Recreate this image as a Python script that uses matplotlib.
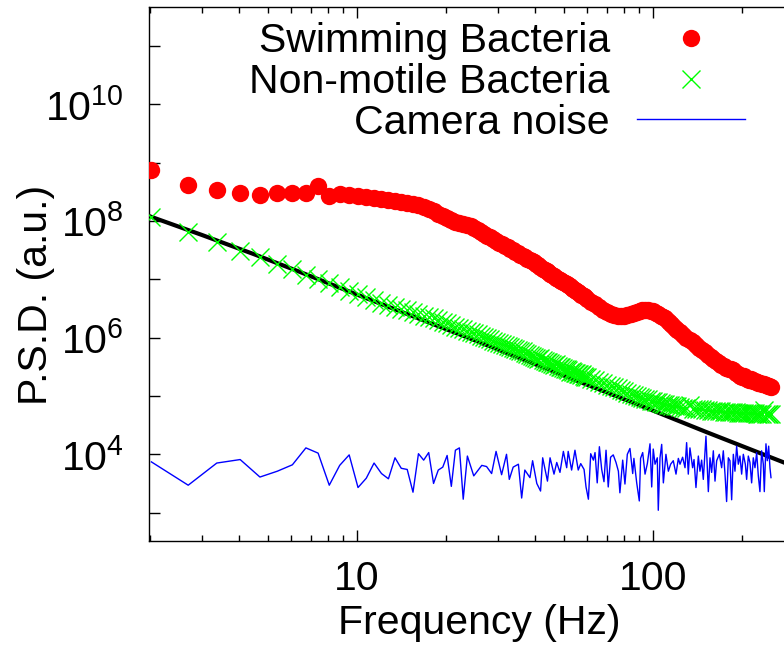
import numpy as np
import matplotlib
matplotlib.use("Agg")
import matplotlib.pyplot as plt
from matplotlib.ticker import FixedLocator, FuncFormatter, NullFormatter, NullLocator

plt.rcParams['font.family'] = ['Liberation Sans', 'DejaVu Sans']
plt.rcParams['mathtext.fontset'] = 'custom'
plt.rcParams['mathtext.rm'] = 'Liberation Sans'
plt.rcParams['mathtext.default'] = 'regular'

# frequency bins (Hz) shared by the two bacteria spectra
freq = [2.02, 2.69, 3.36, 4.03, 4.70, 5.38, 6.05, 6.72, 7.39, 8.06,
        8.74, 9.41, 10.08, 10.75, 11.42, 12.10, 12.77, 13.44, 14.11, 14.78,
        15.46, 16.13, 16.80, 17.47, 18.14, 18.82, 19.49, 20.16, 20.83, 21.50,
        22.18, 22.85, 23.52, 24.19, 24.86, 25.54, 26.21, 26.88, 27.55, 28.22,
        28.90, 29.57, 30.24,
        30.91, 31.58, 32.26, 32.93, 33.60, 34.27, 34.94, 35.62, 36.29, 36.96,
        37.63, 38.30, 38.98, 39.65, 40.32, 40.99, 41.66, 42.34, 43.01, 43.68,
        44.35, 45.02, 45.70, 46.37, 47.04, 47.71, 48.38, 49.06, 49.73, 50.40,
        51.07, 51.74, 52.42, 53.09, 53.76, 54.43, 55.10, 55.78, 56.45, 57.12,
        57.79, 58.46, 59.14, 59.81,
        61.82, 63.84, 65.86, 67.87, 69.89, 71.90, 73.92, 75.94, 77.95, 79.97,
        81.98, 84.00, 86.02, 88.03, 90.05, 92.06, 94.08, 96.10, 98.11, 100.13,
        102.14, 104.16, 106.18, 108.19, 110.21, 112.22, 114.24, 116.26, 118.27, 120.29,
        122.98, 126.34, 129.70, 133.06, 136.42, 139.78, 143.14, 146.50, 149.86, 153.22,
        156.58, 159.94, 163.30, 166.66, 170.02, 173.38, 176.74, 180.10, 183.46, 186.82,
        190.18, 193.54, 196.90, 200.26, 203.62, 206.98, 210.34, 213.70, 217.06, 220.42,
        223.78, 227.14, 230.50, 233.86, 237.22, 240.58, 243.94, 247.30, 250.66]

# log10 of PSD, swimming bacteria
swim_log = [8.88, 8.62, 8.53, 8.48, 8.45, 8.48, 8.49, 8.49, 8.60, 8.43,
            8.46, 8.45, 8.43, 8.42, 8.40, 8.38, 8.36, 8.35, 8.33, 8.31,
            8.29, 8.27, 8.24, 8.21, 8.17, 8.12, 8.08, 8.05, 8.02, 7.99,
            7.97, 7.95, 7.93, 7.91, 7.88, 7.85, 7.81, 7.78, 7.75, 7.72,
            7.69, 7.66, 7.63,
            7.60, 7.57, 7.55, 7.52, 7.50, 7.47, 7.45, 7.42, 7.40, 7.38,
            7.35, 7.33, 7.31, 7.29, 7.26, 7.24, 7.21, 7.18, 7.16, 7.14,
            7.12, 7.10, 7.08, 7.06, 7.03, 7.01, 6.99, 6.97, 6.95, 6.93,
            6.92, 6.90, 6.88, 6.86, 6.84, 6.82, 6.80, 6.78, 6.76, 6.74,
            6.73, 6.71, 6.69, 6.67,
            6.62, 6.57, 6.52, 6.48, 6.44, 6.41, 6.39, 6.38, 6.37, 6.38,
            6.39, 6.40, 6.42, 6.44, 6.46, 6.47, 6.47, 6.47, 6.46, 6.45,
            6.43, 6.41, 6.38, 6.36, 6.33, 6.29, 6.25, 6.21, 6.17, 6.13,
            6.09, 6.05, 6.00, 5.96, 5.92, 5.88, 5.83, 5.79, 5.75, 5.71,
            5.67, 5.63, 5.60, 5.57, 5.54, 5.51, 5.48, 5.46, 5.47, 5.45,
            5.40, 5.37, 5.35, 5.33, 5.34, 5.30, 5.28, 5.29, 5.26, 5.25,
            5.24, 5.23, 5.22, 5.21, 5.20, 5.19, 5.18, 5.17, 5.16]

# log10 of PSD, non-motile bacteria
still_log = [8.07, 7.81, 7.64, 7.48, 7.38, 7.27, 7.17, 7.07, 7.00, 6.93,
             6.87, 6.80, 6.75, 6.69, 6.65, 6.60, 6.56, 6.53, 6.50, 6.47,
             6.44, 6.41, 6.38, 6.35, 6.33, 6.30, 6.27, 6.25, 6.22, 6.19,
             6.17, 6.15, 6.12, 6.10, 6.08, 6.06, 6.03, 6.01, 5.99, 5.97,
             5.95, 5.93, 5.91,
             5.89, 5.87, 5.86, 5.84, 5.82, 5.80, 5.79, 5.77, 5.77, 5.73,
             5.72, 5.70, 5.69, 5.67, 5.66, 5.64, 5.65, 5.62, 5.60, 5.59,
             5.58, 5.57, 5.55, 5.54, 5.55, 5.52, 5.50, 5.49, 5.48, 5.47,
             5.46, 5.45, 5.42, 5.43, 5.41, 5.40, 5.39, 5.38, 5.37, 5.36,
             5.37, 5.34, 5.33, 5.32,
             5.30, 5.27, 5.24, 5.22, 5.19, 5.17, 5.15, 5.13, 5.11, 5.08,
             5.06, 5.04, 5.02, 5.00, 4.98, 4.97, 4.95, 4.94, 4.92, 4.91,
             4.90, 4.89, 4.88, 4.87, 4.86, 4.85, 4.84, 4.83, 4.83, 4.82,
             4.81, 4.80, 4.80, 4.84, 4.78, 4.78, 4.77, 4.77, 4.76, 4.76,
             4.75, 4.75, 4.74, 4.74, 4.74, 4.73, 4.73, 4.73, 4.72, 4.72,
             4.72, 4.71, 4.71, 4.71, 4.71, 4.70, 4.70, 4.70, 4.70, 4.70,
             4.69, 4.69, 4.69, 4.69, 4.76, 4.69, 4.69, 4.69, 4.69]

# camera noise
noise_freq = [2.02, 2.69, 3.36, 4.03, 4.70, 5.38, 6.05, 6.72, 7.39, 8.06,
              8.74, 9.41, 10.08, 10.75, 11.42, 12.10, 12.77, 13.44, 14.11, 14.78,
              15.46, 16.13, 16.80, 17.47, 18.14, 18.82, 19.49, 20.16, 20.83, 21.50,
              22.18, 22.85,
              23.6, 24.8, 26.4, 27.4, 28.5, 29.5, 30.8, 32.0, 32.7, 33.7,
              35.1, 36.0, 36.9, 38.4, 39.2, 40.5, 41.7, 42.4, 44.0, 44.9,
              46.3, 47.3, 48.5, 49.8, 51.1, 51.7, 53.1, 54.5, 55.9, 57.0,
              58.5, 59.4, 60.5, 61.6, 62.9, 63.7, 64.8, 65.9, 67.1, 68.3,
              69.4, 70.6, 71.9, 73.4, 75.0, 76.4, 77.3, 79.0, 80.4, 81.9,
              83.6, 85.4, 86.2, 88.1, 89.9, 90.8, 92.3, 94.0, 95.7, 97.7,
              99.0, 100.2, 101.6, 103.4, 104.2, 105.6, 107.0, 108.4, 110.6, 112.7,
              114.7, 117.1, 119.6, 121.8, 123.4, 125.9, 128.3, 129.9, 131.6, 133.3,
              136.1, 137.6, 139.7, 142.3, 144.1, 146.0, 147.9, 151.0, 153.8, 155.8,
              157.8, 159.9, 162.0, 164.1, 167.5, 170.6, 172.8, 175.1, 177.3, 179.7,
              182.0, 184.4, 186.8, 189.2, 191.7, 194.2, 196.7, 199.3, 201.9, 205.1,
              207.2, 209.9, 212.6, 215.4, 218.2, 221.1, 224.0, 226.9, 229.8, 232.8,
              235.9, 237.7, 240.8, 243.3, 245.9, 248.4, 250.4]
noise_log = [3.87, 3.47, 3.85, 3.91, 3.61, 3.71, 3.82, 4.11, 4.02, 3.47,
             3.81, 3.99, 3.43, 3.59, 3.85, 3.67, 3.58, 3.94, 3.76, 3.74,
             3.35, 4.01, 3.90, 4.03, 3.50, 3.73, 3.78, 3.98, 3.45, 4.07,
             4.11, 3.23,
             3.97, 3.63, 3.81, 3.79, 3.67, 4.05, 3.65, 4.00, 3.57, 3.78,
             3.83, 3.25, 3.73, 3.60, 3.89, 3.50, 3.37, 3.94, 3.54, 3.94,
             3.66, 3.86, 3.69, 4.05, 3.77, 4.05, 3.73, 4.07, 3.73, 3.84,
             3.74, 3.44, 3.23, 4.01, 3.90, 4.03, 3.51, 4.13, 3.74, 3.53,
             4.07, 3.44, 3.95, 3.99, 3.86, 3.71, 3.34, 3.90, 3.49, 4.00,
             4.10, 3.67, 3.93, 3.51, 3.20, 3.93, 4.03, 3.66, 3.84, 4.18,
             3.44, 4.09, 3.83, 3.94, 3.04, 3.94, 4.17, 3.51, 4.00, 3.71,
             3.83, 3.89, 3.66, 3.93, 3.83, 3.95, 3.77, 4.20, 3.66, 4.11,
             3.77, 3.91, 3.43, 3.97, 3.71, 3.90, 3.57, 4.31, 3.36, 3.94,
             3.69, 4.06, 3.54, 3.89, 4.00, 3.77, 4.06, 3.66, 3.19, 3.94,
             3.89, 3.22, 4.00, 3.71, 4.14, 3.83, 3.97, 3.66, 4.00, 3.83,
             3.57, 3.97, 3.86, 3.51, 3.94, 3.77, 4.03, 3.63, 3.36, 4.06,
             3.83, 3.36, 4.18, 3.89, 4.14, 3.77, 3.60]

# fitted curve (black)
fit_freq = [2.0, 3.0, 4.5, 6.4, 10.0, 24.0, 50.0, 100.0, 150.0, 280.0]
fit_log = [8.08, 7.76, 7.43, 7.13, 6.74, 5.99, 5.35, 4.75, 4.39, 3.85]

fig = plt.figure(figsize=(7.84, 6.46), dpi=100)
ax = fig.add_axes([149/784, 105/646, 651/784, 534/646])

ax.plot(fit_freq, 10**np.array(fit_log), color='black', lw=3, zorder=2)
ax.plot(noise_freq, 10**np.array(noise_log), color='#0000ff', lw=1.0,
        label='Camera noise', zorder=3)
ax.plot(freq, 10**np.array(still_log), 'x', color='#00ff00', ms=12.5, mew=1.0,
        label='Non-motile Bacteria', zorder=4)
ax.plot(freq, 10**np.array(swim_log), 'o', color='#ff0000', ms=12.5, mew=0,
        label='Swimming Bacteria', zorder=5)

ax.set_xscale('log')
ax.set_yscale('log')
ax.set_xlim(1.983, 313.8)
ax.set_ylim(10**2.513, 10**11.672)

ax.xaxis.set_major_locator(FixedLocator([10, 100]))
ax.xaxis.set_major_formatter(FuncFormatter(lambda v, p: '%d' % round(v)))
ax.xaxis.set_minor_locator(FixedLocator([2, 3, 4, 5, 6, 7, 8, 9,
                                         20, 30, 40, 50, 60, 70, 80, 90, 200, 300]))
ax.xaxis.set_minor_formatter(NullFormatter())

ax.yaxis.set_major_locator(FixedLocator([10.0**k for k in range(3, 12)]))


def ylab(v, p):
    k = int(round(np.log10(v)))
    if k % 2 == 0:
        return r'$10^{%d}$' % k
    return ''


ax.yaxis.set_major_formatter(FuncFormatter(ylab))
ax.yaxis.set_minor_locator(NullLocator())

ax.tick_params(which='both', direction='in', top=True, right=True, width=1.0,
               labelsize=29.5)
ax.tick_params(which='major', length=8)
ax.tick_params(which='minor', length=4)
ax.tick_params(axis='y', pad=18)
ax.tick_params(axis='x', pad=14)
for s in ax.spines.values():
    s.set_linewidth(1.0)

ax.set_xlabel('Frequency (Hz)', fontsize=29.5)
ax.set_ylabel('P.S.D. (a.u.)', fontsize=29.5)
ax.xaxis.set_label_coords(0.508, -0.118)
ax.yaxis.set_label_coords(-0.144, 0.4607)

handles, labels = ax.get_legend_handles_labels()
order = [2, 1, 0]
ax.legend([handles[i] for i in order], [labels[i] for i in order],
          loc='upper right', bbox_to_anchor=(745/784, 1 - 22/646),
          bbox_transform=fig.transFigure, frameon=False, markerfirst=False,
          handlelength=2.64, handletextpad=0.66, labelspacing=0.07,
          borderpad=0, borderaxespad=0, fontsize=29.5)

fig.savefig('out.png', dpi=100)
